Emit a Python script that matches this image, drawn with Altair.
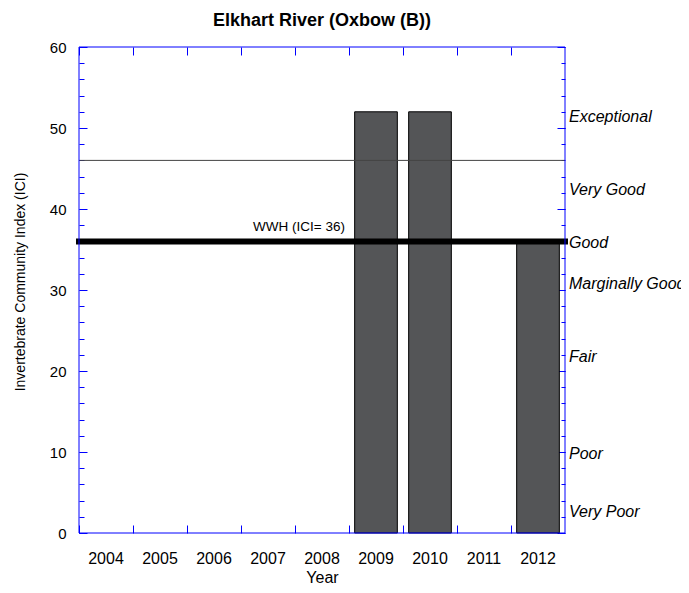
import altair as alt
import pandas as pd

# ---- data ----
years = ["2004", "2005", "2006", "2007", "2008", "2009", "2010", "2011", "2012"]
ici = [None, None, None, None, None, 52, 52, None, 36]
threshold_value = [46]
wwh_value = [36]
wwh_label = ["WWH (ICI= 36)"]
wwh_year = ["2008"]
narrative_labels = ["Exceptional", "Very Good", "Good", "Marginally Good", "Fair", "Poor", "Very Poor"]
narrative_values = [51.4, 42.4, 35.8, 30.8, 21.7, 9.8, 2.6]
y_major = [0, 10, 20, 30, 40, 50, 60]
y_minor = [0, 2, 4, 6, 8, 10, 12, 14, 16, 18, 20, 22, 24, 26, 28, 30,
           32, 34, 36, 38, 40, 42, 44, 46, 48, 50, 52, 54, 56, 58, 60]
y_range = [0, 60]

FONT = "Liberation Sans"
BLUE = "#0000ff"

bars_df = pd.DataFrame({"year": years, "ici": ici})
thr_df = pd.DataFrame({"value": threshold_value})
wwh_df = pd.DataFrame({"value": wwh_value})
wwh_txt_df = pd.DataFrame({"value": wwh_value, "label": wwh_label, "year": wwh_year})
narr_df = pd.DataFrame({"label": narrative_labels, "value": narrative_values})
frame_df = pd.DataFrame({"lo": [y_range[0]], "hi": [y_range[1]]})

xscale = alt.Scale(domain=years, paddingInner=0, paddingOuter=0)
yscale = alt.Scale(domain=y_range, nice=False, zero=True)

bars = alt.Chart(bars_df).mark_bar(
    width=alt.RelativeBandSize(0.79), color="#545557", stroke="black", strokeWidth=1
).encode(
    x=alt.X("year:N", scale=xscale, sort=years,
            axis=alt.Axis(orient="bottom", title="Year", tickSize=0, domain=False,
                          labelAngle=0, labelPadding=17, labelFontSize=16,
                          titleFontSize=16, titleFontWeight="normal", titlePadding=3,
                          bandPosition=0.5, labelColor="black", titleColor="black",
                          grid=False)),
    y=alt.Y("ici:Q", scale=yscale,
            axis=alt.Axis(orient="left", values=y_major, offset=-8, tickSize=8,
                          tickColor=BLUE, domain=False, grid=False, labelPadding=13,
                          labelFontSize=15, labelColor="black",
                          title="Invertebrate Community Index (ICI)",
                          titleFontSize=14, titleFontWeight="normal", titleColor="black",
                          titlePadding=22, titleY=234.5)),
)

thr = alt.Chart(thr_df).mark_rule(color="#444444", strokeWidth=1).encode(
    y=alt.Y("value:Q", scale=yscale,
            axis=alt.Axis(orient="left", values=y_minor, offset=-5, tickSize=5,
                          tickColor=BLUE, labels=False, domain=False, grid=False,
                          title=None)),
)

wwh = alt.Chart(wwh_df).mark_rule(color="black", strokeWidth=6, strokeCap="square").encode(
    y=alt.Y("value:Q", scale=yscale,
            axis=alt.Axis(orient="right", values=y_major, offset=-8, tickSize=8,
                          tickColor=BLUE, labels=False, domain=False, grid=False,
                          title=None)),
)

wwh_txt = alt.Chart(wwh_txt_df).mark_text(
    align="center", baseline="alphabetic", dx=4, dy=-10, fontSize=13.5,
    color="black", font=FONT
).encode(
    x=alt.X("year:N", scale=xscale, bandPosition=0,
            axis=alt.Axis(orient="bottom", bandPosition=0, offset=-8, tickSize=8,
                          tickColor=BLUE, labels=False, domain=False, grid=False,
                          title=None)),
    y=alt.Y("value:Q", scale=yscale,
            axis=alt.Axis(orient="right", values=y_minor, offset=-4, tickSize=4,
                          tickColor=BLUE, labels=False, domain=False, grid=False,
                          title=None)),
    text="label:N",
)

narr = alt.Chart(narr_df).mark_text(
    align="left", baseline="middle", dx=4, fontSize=16, fontStyle="italic",
    color="black", font=FONT
).encode(
    x=alt.XDatum(years[-1], type="nominal", bandPosition=1, scale=xscale,
                 axis=alt.Axis(orient="top", bandPosition=0, offset=-8, tickSize=8,
                               tickColor=BLUE, labels=False, domain=False, grid=False,
                               title=None)),
    y=alt.Y("value:Q", scale=yscale, axis=None),
    text="label:N",
)

frame = alt.Chart(frame_df).mark_rect(
    fill="white", fillOpacity=0, stroke=BLUE, strokeWidth=1
).encode(
    y=alt.Y("lo:Q", scale=yscale, axis=None),
    y2="hi:Q",
)

chart = alt.layer(bars, thr, wwh, wwh_txt, narr, frame).resolve_axis(
    x="independent", y="independent"
).properties(
    width=486,
    height=486,
    autosize=alt.AutoSizeParams(type="none"),
    padding={"left": 71, "top": 39, "right": 116, "bottom": 52},
    title=alt.TitleParams("Elkhart River (Oxbow (B))", fontSize=18, fontWeight="bold",
                          font=FONT, frame="group", anchor="middle", offset=10,
                          color="black"),
).configure(
    font=FONT, background="white"
).configure_axis(
    labelFont=FONT, titleFont=FONT
).configure_view(
    strokeWidth=0, stroke=None
)

chart.save("out.html", embed_options={"renderer": "svg", "actions": False})
